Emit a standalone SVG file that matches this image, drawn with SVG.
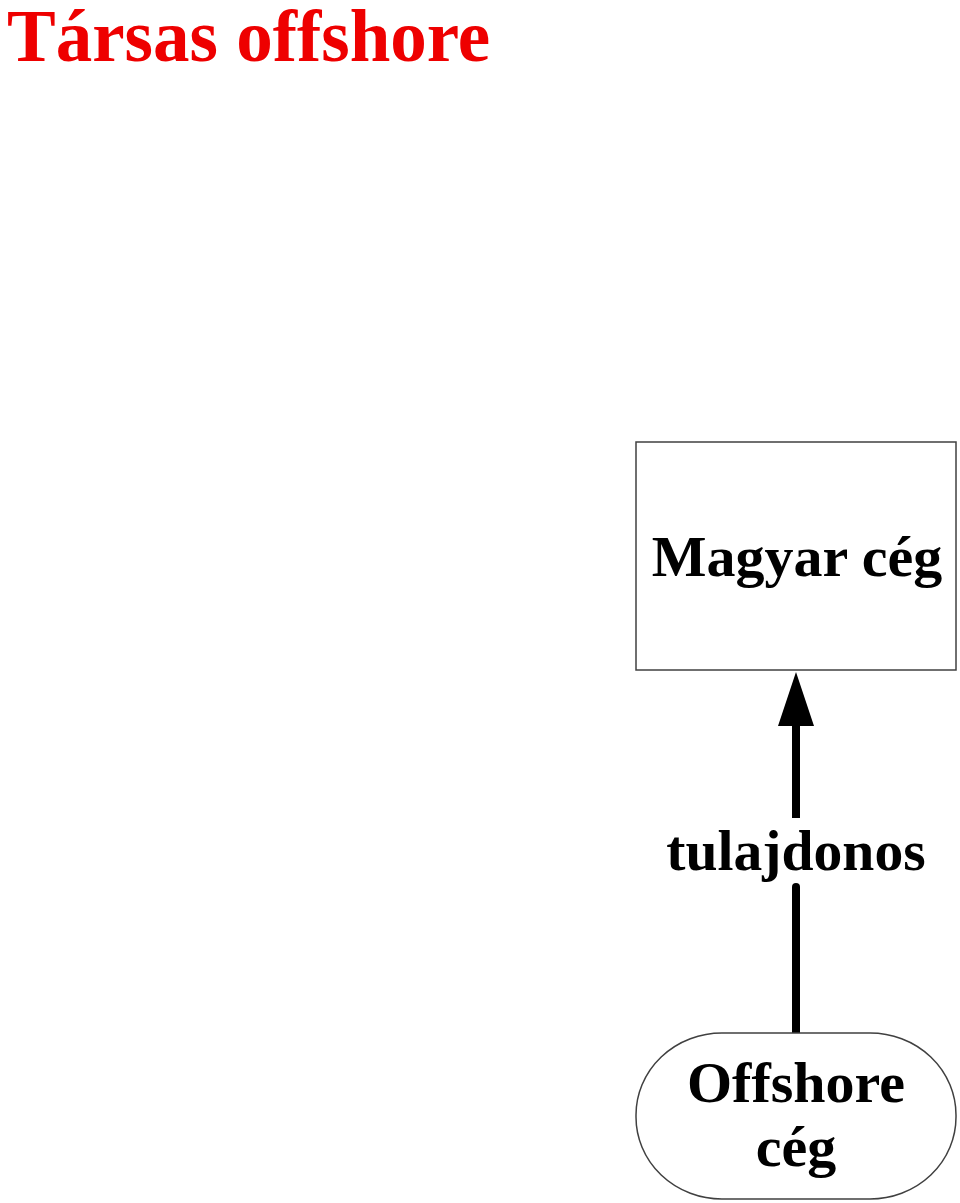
<svg xmlns="http://www.w3.org/2000/svg" width="960" height="1203" viewBox="0 0 960 1203">
<style>
.t{font-family:"Liberation Serif","Times New Roman",serif;font-weight:bold;text-anchor:middle;fill:#000;font-size:58px}
.n{fill:#fff;stroke:#404040;stroke-width:1.5}
</style>
<rect width="960" height="1203" fill="#fff"/>
<text x="7" y="61" font-family="Liberation Serif,Times New Roman,serif" font-weight="bold" font-size="73" fill="#ee0000">Társas offshore</text>
<g id="connectors">
<line x1="796" y1="1035" x2="796" y2="887" stroke="#000" stroke-width="8" stroke-linecap="round"/>
<path d="M796,818 L796,724" stroke="#000" stroke-width="8"/>
<path d="M796,672 L814,726 L778,726 z" fill="#000"/>
<text class="t" x="796" y="870" style="font-size:57.6px">tulajdonos</text>
</g>
<g id="magyar">
<rect class="n" x="636" y="442" width="320" height="228"/>
<text class="t" x="797" y="576">Magyar cég</text>
</g>
<g id="offshore">
<rect class="n" x="636" y="1033" width="320" height="166" rx="86" ry="82"/>
<text class="t" x="796" y="1102">Offshore</text>
<text class="t" x="796" y="1166">cég</text>
</g>
</svg>
